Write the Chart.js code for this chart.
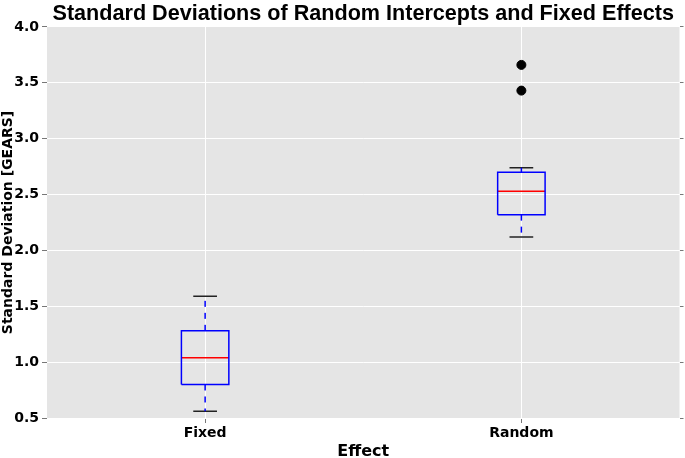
<!DOCTYPE html>
<html>
<head>
<meta charset="utf-8">
<script src="https://cdn.jsdelivr.net/npm/chart.js@4.4.0/dist/chart.umd.min.js"></script>
<style>
    html, body { margin: 0; padding: 0; background: #fff; }
    #wrap { width: 685px; height: 458px; }
</style>
</head>
<body>
<div id="wrap"><canvas id="boxChart"></canvas></div>
<script>
var effectLabels = ['Fixed', 'Random'];
var effectPositions = [1, 2];
var whiskerLow = [0.56, 2.12];
var q1Values = [0.80, 2.32];
var medianValues = [1.04, 2.53];
var q3Values = [1.28, 2.70];
var whiskerHigh = [1.59, 2.74];
var outlierPositions = [2, 2];
var outlierValues = [3.43, 3.66];
var yTickValues = [0.5, 1.0, 1.5, 2.0, 2.5, 3.0, 3.5, 4.0];

var boxWidth = 0.15;

function segment(points, color, dash) {
    return {
        data: points,
        showLine: true,
        borderColor: color,
        borderWidth: 1.5,
        borderDash: dash || [],
        pointRadius: 0,
        fill: false,
        yAxisID: 'y'
    };
}

function buildDatasets() {
    var sets = [];
    for (var i = 0; i < effectPositions.length; i++) {
        var p = effectPositions[i];
        var half = boxWidth / 2;
        // whiskers (dashed)
        sets.push(segment([{ x: p, y: q3Values[i] }, { x: p, y: whiskerHigh[i] }], '#0000ff', [6, 6]));
        sets.push(segment([{ x: p, y: q1Values[i] }, { x: p, y: whiskerLow[i] }], '#0000ff', [6, 6]));
        // caps
        sets.push(segment([{ x: p - half / 2, y: whiskerHigh[i] }, { x: p + half / 2, y: whiskerHigh[i] }], '#222222'));
        sets.push(segment([{ x: p - half / 2, y: whiskerLow[i] }, { x: p + half / 2, y: whiskerLow[i] }], '#222222'));
        // box
        sets.push(segment([
            { x: p - half, y: q1Values[i] }, { x: p + half, y: q1Values[i] },
            { x: p + half, y: q3Values[i] }, { x: p - half, y: q3Values[i] },
            { x: p - half, y: q1Values[i] }
        ], '#0000ff'));
        // median
        sets.push(segment([{ x: p - half, y: medianValues[i] }, { x: p + half, y: medianValues[i] }], '#ff0000'));
    }
    var outliers = [];
    for (var j = 0; j < outlierValues.length; j++) {
        outliers.push({ x: outlierPositions[j], y: outlierValues[j] });
    }
    sets.push({
        data: outliers,
        showLine: false,
        pointRadius: 4.5,
        pointBackgroundColor: '#000000',
        pointBorderColor: '#000000',
        yAxisID: 'y'
    });
    return sets;
}

// grey panel behind the grid
var panelBackground = {
    id: 'panelBackground',
    beforeDraw: function (chart) {
        var a = chart.chartArea;
        var ctx = chart.ctx;
        ctx.save();
        ctx.fillStyle = '#e5e5e5';
        ctx.fillRect(a.left, a.top, a.right - a.left, a.bottom - a.top);
        ctx.restore();
    }
};

function fixedYTicks(scale) {
    scale.ticks = yTickValues.map(function (v) { return { value: v }; });
}

new Chart(document.getElementById('boxChart'), {
    type: 'scatter',
    data: { datasets: buildDatasets() },
    plugins: [panelBackground],
    options: {
        responsive: true,
        maintainAspectRatio: false,
        animation: false,
        layout: { padding: 0 },
        plugins: {
            legend: { display: false },
            tooltip: { enabled: false },
            title: {
                display: true,
                fullSize: false,
                text: 'Standard Deviations of Random Intercepts and Fixed Effects',
                color: '#000',
                font: { family: 'Liberation Sans', size: 21.6, weight: 'bold' },
                padding: { top: 1, bottom: 0 }
            }
        },
        scales: {
            x: {
                type: 'linear',
                min: 0.5,
                max: 2.5,
                afterBuildTicks: function (scale) {
                    scale.ticks = effectPositions.map(function (v) { return { value: v }; });
                },
                afterFit: function (scale) { scale.height = 40; },
                ticks: {
                    color: '#000',
                    padding: 2,
                    font: { family: 'DejaVu Sans', size: 14, weight: 'bold' },
                    callback: function (value) {
                        return effectLabels[effectPositions.indexOf(value)];
                    }
                },
                grid: { color: '#ffffff', lineWidth: 1, tickColor: '#777', tickLength: 5 },
                border: { display: false },
                title: {
                    display: true,
                    text: 'Effect',
                    color: '#000',
                    font: { family: 'DejaVu Sans', size: 16, weight: 'bold', lineHeight: 0.8 },
                    padding: { top: 0, bottom: 0 }
                }
            },
            y: {
                min: 0.5,
                max: 4.0,
                afterBuildTicks: fixedYTicks,
                afterFit: function (scale) { scale.width = 47; },
                ticks: {
                    color: '#000',
                    padding: 3,
                    font: { family: 'DejaVu Sans', size: 14, weight: 'bold' },
                    callback: function (value) { return value.toFixed(1); }
                },
                grid: { color: '#ffffff', lineWidth: 1, tickColor: '#777', tickLength: 5 },
                border: { display: false },
                title: {
                    display: true,
                    text: 'Standard Deviation [GEARS]',
                    color: '#000',
                    font: { family: 'DejaVu Sans', size: 14, weight: 'bold' },
                    padding: { top: 0, bottom: 0 }
                }
            },
            yRight: {
                position: 'right',
                min: 0.5,
                max: 4.0,
                afterBuildTicks: fixedYTicks,
                afterFit: function (scale) { scale.width = 5; },
                ticks: { display: false },
                grid: { drawOnChartArea: false, tickColor: '#777', tickLength: 4 },
                border: { display: false }
            }
        }
    }
});
</script>
</body>
</html>
